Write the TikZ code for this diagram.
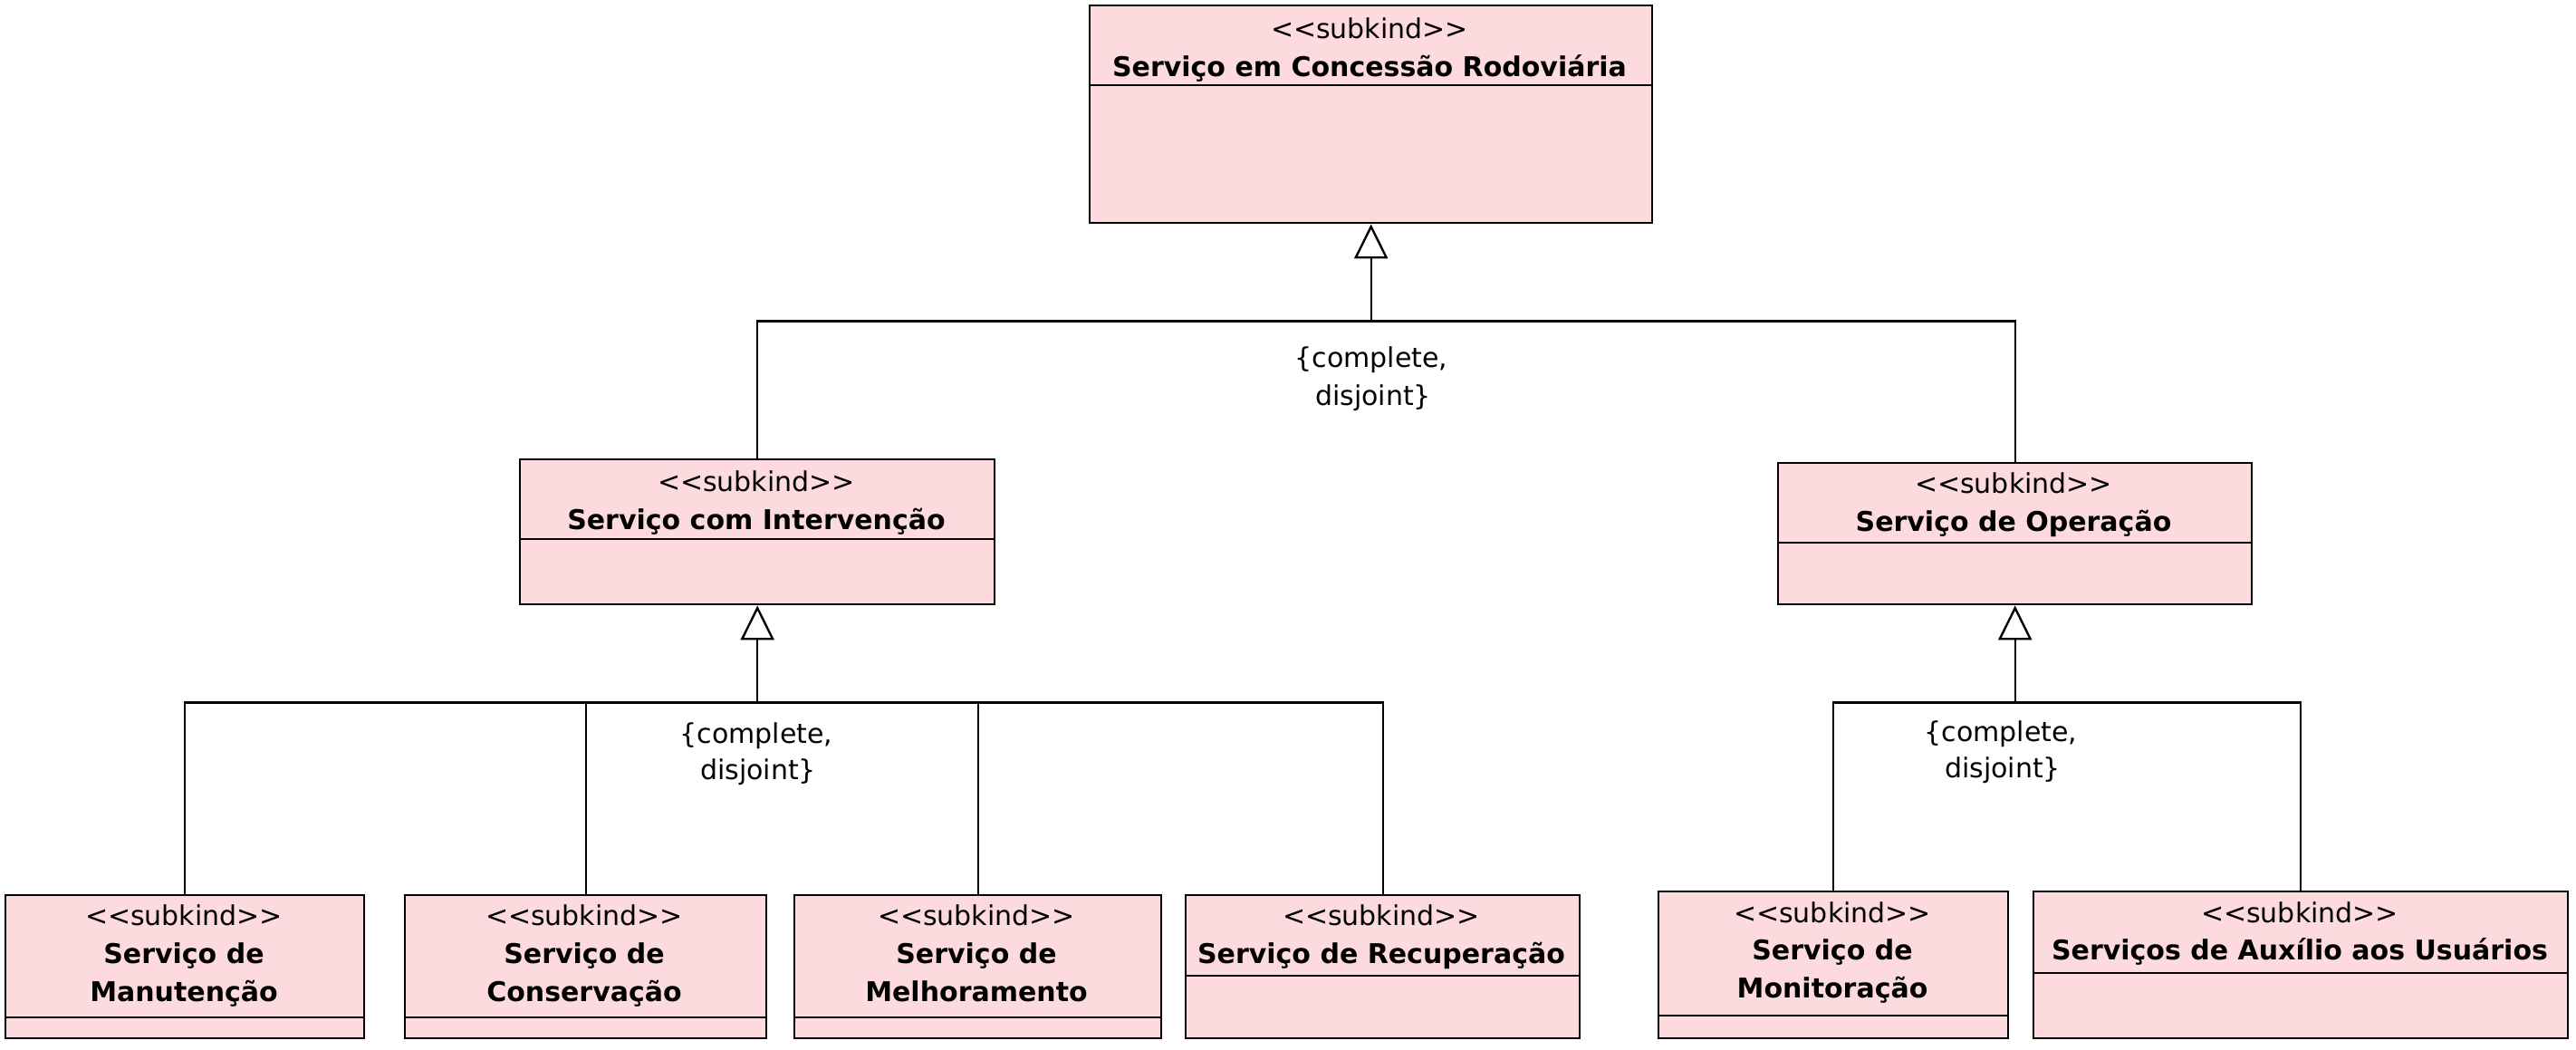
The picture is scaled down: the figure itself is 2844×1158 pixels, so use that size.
\documentclass[tikz,border=0pt]{standalone}
\usepackage{fontspec}
\setmainfont{DejaVu Sans}[Ligatures=TeXOff]
\usetikzlibrary{arrows.meta}
\definecolor{pinkfill}{RGB}{253,218,222}
\tikzset{
  cls/.style={draw, line width=1.2pt, fill=pinkfill, rectangle, inner sep=0pt},
  divline/.style={line width=1.2pt},
  conn/.style={line width=1.2pt},
  gen/.style={conn, -{Triangle[length=19pt, width=18.5pt, fill=white]}},
  st/.style={anchor=base, inner sep=0pt, font=\fontsize{15pt}{21pt}\selectfont},
  nm/.style={anchor=base, inner sep=0pt, font=\fontsize{15pt}{21pt}\selectfont\bfseries},
  lbl/.style={anchor=base, inner sep=0pt, font=\fontsize{15pt}{21pt}\selectfont}
}
\newcommand{\umlbox}[6]{%
  \node[cls, anchor=north west, minimum width={(#4-#2)*0.5pt}, minimum height={(#5-#3)*0.5pt}] (#1) at (#2,#3) {};
  \draw[divline] (#2,#6) -- (#4,#6);
}
\begin{document}
\begin{tikzpicture}[x=0.5pt,y=-0.5pt]
\useasboundingbox (0,0) rectangle (2844,1158);
\fill[white] (0,0) rectangle (2844,1158);

% boxes
\umlbox{top}{1202}{5}{1823}{245}{94}
\umlbox{cL}{573}{506}{1097}{666}{595}
\umlbox{cR}{1962}{510}{2485}{666}{599}
\umlbox{b1}{5}{987}{401}{1145}{1123}
\umlbox{b2}{446}{987}{845}{1145}{1123}
\umlbox{b3}{876}{987}{1281}{1145}{1123}
\umlbox{b4}{1308}{987}{1743}{1145}{1077}
\umlbox{b5}{1830}{983}{2216}{1145}{1121}
\umlbox{b6}{2244}{983}{2834}{1145}{1074}

% texts
\node[st] (t0) at (1512,42) {<<subkind>>};
\node[nm] (t1) at (1512,84) {Serviço em Concessão Rodoviária};
\node[st] (l0) at (835,542) {<<subkind>>};
\node[nm] (l1) at (835,584) {Serviço com Intervenção};
\node[st] (r0) at (2223,544) {<<subkind>>};
\node[nm] (r1) at (2223,586) {Serviço de Operação};
\node[st] (a0) at (203,1021) {<<subkind>>};
\node[nm] (a1) at (203,1063) {Serviço de};
\node[nm] (a2) at (203,1105) {Manutenção};
\node[st] (c0) at (645,1021) {<<subkind>>};
\node[nm] (c1) at (645,1063) {Serviço de};
\node[nm] (c2) at (645,1105) {Conservação};
\node[st] (d0) at (1078,1021) {<<subkind>>};
\node[nm] (d1) at (1078,1063) {Serviço de};
\node[nm] (d2) at (1078,1105) {Melhoramento};
\node[st] (e0) at (1525,1021) {<<subkind>>};
\node[nm] (e1) at (1525,1063) {Serviço de Recuperação};
\node[st] (f0) at (2023,1018) {<<subkind>>};
\node[nm] (f1) at (2023,1059) {Serviço de};
\node[nm] (f2) at (2023,1101) {Monitoração};
\node[st] (g0) at (2539,1018) {<<subkind>>};
\node[nm] (g1) at (2539,1059) {Serviços de Auxílio aos Usuários};

% generalization sets
\path (top.south) ++(0,107) coordinate (j0);
\path (cL.south) ++(0,107) coordinate (j1);
\path (cR.south) ++(0,107) coordinate (j2);

\draw[conn] (cL.north) |- (j0);
\draw[conn] (cR.north) |- (j0);
\draw[gen] (j0) -- (top.south);

\draw[conn] (b1.north) |- (j1);
\draw[conn] (b2.north) |- (j1);
\draw[conn] (b3.north) |- (j1);
\draw[conn] (b4.north) |- (j1);
\draw[gen] (j1) -- (cL.south);

\draw[conn] (b5.north) |- (j2);
\draw[conn] (b6.north) |- (j2);
\draw[gen] (j2) -- (cR.south);

% constraint labels
\node[lbl] (k0a) at (1514,405) {\{complete,};
\node[lbl] (k0b) at (1516,447) {disjoint\}};
\node[lbl] (k1a) at (835,820) {\{complete,};
\node[lbl] (k1b) at (837,860) {disjoint\}};
\node[lbl] (k2a) at (2209,818) {\{complete,};
\node[lbl] (k2b) at (2211,858) {disjoint\}};
\end{tikzpicture}
\end{document}
